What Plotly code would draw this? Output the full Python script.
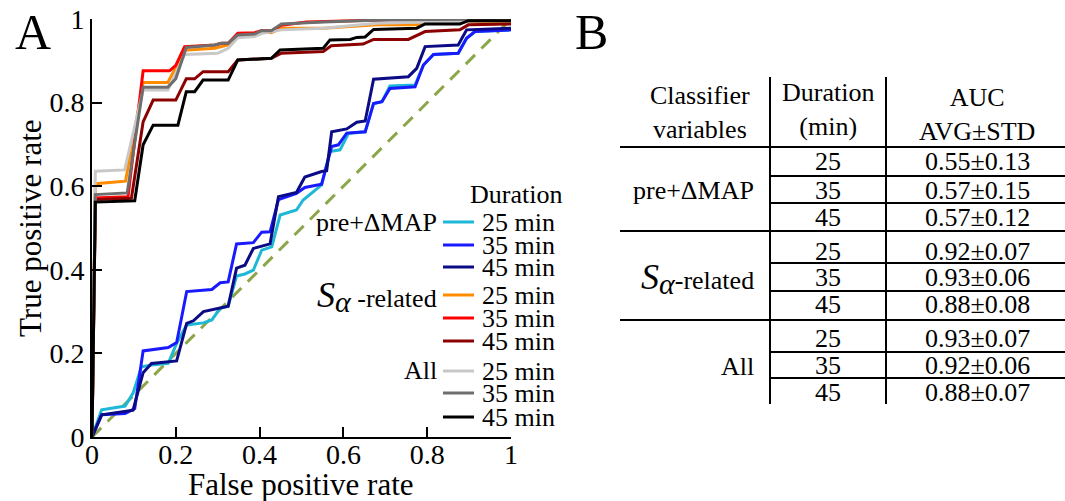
import plotly.graph_objects as go

# ---------------- data ----------------
durations = ["25 min", "35 min", "45 min"]
groups = ["pre+ΔMAP", "S_alpha-related", "All"]

pre25_x = [0, 0.023, 0.079, 0.098, 0.118, 0.142, 0.182, 0.202, 0.226, 0.266, 0.286, 0.306, 0.325, 0.345, 0.365, 0.385, 0.405, 0.429, 0.449, 0.488, 0.504, 0.548, 0.568, 0.592, 0.612, 0.652, 0.672, 0.692, 0.711, 0.771, 0.791, 0.815, 0.874, 0.894, 0.914, 1.0]
pre25_y = [0, 0.065, 0.074, 0.105, 0.168, 0.172, 0.176, 0.224, 0.268, 0.273, 0.28, 0.308, 0.313, 0.385, 0.39, 0.399, 0.447, 0.455, 0.531, 0.543, 0.567, 0.603, 0.683, 0.687, 0.726, 0.73, 0.798, 0.802, 0.84, 0.842, 0.89, 0.915, 0.918, 0.954, 0.97, 0.974]

pre35_x = [0, 0.023, 0.079, 0.102, 0.122, 0.182, 0.202, 0.226, 0.286, 0.306, 0.325, 0.345, 0.385, 0.405, 0.425, 0.445, 0.488, 0.508, 0.548, 0.572, 0.588, 0.608, 0.652, 0.672, 0.692, 0.711, 0.771, 0.791, 0.815, 0.874, 0.894, 0.914, 1.0]
pre35_y = [0, 0.053, 0.056, 0.068, 0.206, 0.214, 0.226, 0.348, 0.353, 0.369, 0.371, 0.462, 0.465, 0.49, 0.491, 0.568, 0.583, 0.597, 0.605, 0.695, 0.699, 0.727, 0.73, 0.798, 0.802, 0.834, 0.838, 0.89, 0.915, 0.918, 0.954, 0.97, 0.974]

pre45_x = [0, 0.023, 0.098, 0.122, 0.142, 0.182, 0.202, 0.226, 0.242, 0.266, 0.306, 0.325, 0.345, 0.365, 0.385, 0.425, 0.445, 0.488, 0.508, 0.548, 0.56, 0.572, 0.608, 0.632, 0.652, 0.672, 0.755, 0.775, 0.795, 0.874, 0.894, 1.0]
pre45_y = [0, 0.053, 0.064, 0.154, 0.176, 0.18, 0.182, 0.272, 0.278, 0.3, 0.31, 0.313, 0.404, 0.411, 0.451, 0.462, 0.575, 0.585, 0.622, 0.635, 0.637, 0.73, 0.737, 0.753, 0.756, 0.856, 0.862, 0.882, 0.934, 0.938, 0.974, 0.978]

sa25_x = [0, 0.008, 0.08, 0.122, 0.181, 0.221, 0.293, 0.325, 0.348, 0.388, 0.404, 0.428, 0.452, 0.552, 0.68, 0.775, 0.795, 1.0]
sa25_y = [0, 0.606, 0.612, 0.848, 0.848, 0.925, 0.93, 0.938, 0.962, 0.962, 0.97, 0.967, 0.978, 0.978, 0.986, 0.986, 0.992, 0.995]

sa35_x = [0, 0.008, 0.086, 0.122, 0.185, 0.2, 0.221, 0.293, 0.309, 0.325, 0.348, 0.388, 0.404, 0.428, 0.452, 0.512, 0.71, 1.0]
sa35_y = [0, 0.572, 0.575, 0.876, 0.876, 0.889, 0.934, 0.938, 0.942, 0.942, 0.966, 0.967, 0.972, 0.972, 0.985, 0.993, 0.998, 1.0]

sa45_x = [0, 0.008, 0.094, 0.122, 0.146, 0.2, 0.225, 0.245, 0.265, 0.325, 0.348, 0.428, 0.452, 0.552, 0.571, 0.647, 0.672, 0.755, 0.795, 0.878, 0.898, 1.0]
sa45_y = [0, 0.568, 0.571, 0.754, 0.806, 0.806, 0.857, 0.857, 0.874, 0.874, 0.902, 0.906, 0.918, 0.922, 0.936, 0.94, 0.951, 0.951, 0.97, 0.974, 0.986, 0.988]

all25_x = [0, 0.008, 0.078, 0.122, 0.181, 0.221, 0.3, 0.325, 0.348, 0.388, 0.404, 0.452, 0.552, 0.68, 0.8, 1.0]
all25_y = [0, 0.636, 0.639, 0.83, 0.83, 0.915, 0.918, 0.93, 0.955, 0.958, 0.965, 0.974, 0.978, 0.99, 0.993, 0.997]

all35_x = [0, 0.008, 0.084, 0.122, 0.181, 0.2, 0.225, 0.293, 0.309, 0.325, 0.348, 0.388, 0.404, 0.428, 0.452, 0.552, 0.71, 1.0]
all35_y = [0, 0.58, 0.584, 0.837, 0.837, 0.857, 0.932, 0.938, 0.942, 0.942, 0.962, 0.964, 0.972, 0.972, 0.988, 0.993, 0.998, 1.0]

all45_x = [0, 0.008, 0.102, 0.122, 0.146, 0.205, 0.225, 0.245, 0.265, 0.325, 0.348, 0.428, 0.449, 0.552, 0.568, 0.616, 0.632, 0.652, 0.672, 0.775, 0.795, 0.878, 0.898, 1.0]
all45_y = [0, 0.562, 0.565, 0.699, 0.746, 0.746, 0.826, 0.826, 0.854, 0.854, 0.902, 0.906, 0.926, 0.93, 0.95, 0.951, 0.956, 0.957, 0.975, 0.978, 0.988, 0.988, 0.996, 0.996]

chance_x = [0, 1]
chance_y = [0, 1]

tick_vals = [0, 0.2, 0.4, 0.6, 0.8, 1]
tick_text = ["0", "0.2", "0.4", "0.6", "0.8", "1"]

x_title = "False positive rate"
y_title = "True positive rate"

# table data
table_groups = ["pre+ΔMAP", "S_alpha-related", "All"]
table_durations = ["25", "35", "45"]
table_auc = [["0.55±0.13", "0.57±0.15", "0.57±0.12"],
             ["0.92±0.07", "0.93±0.06", "0.88±0.08"],
             ["0.93±0.07", "0.92±0.06", "0.88±0.07"]]

# ---------------- styles ----------------
FONT = "Liberation Serif"
colors = [["#1db8d6", "#1a1aff", "#0b0b86"],
          ["#ff8c00", "#ff0000", "#8b0000"],
          ["#c8c8c8", "#6e6e6e", "#000000"]]
series = [[(pre25_x, pre25_y), (pre35_x, pre35_y), (pre45_x, pre45_y)],
          [(sa25_x, sa25_y), (sa35_x, sa35_y), (sa45_x, sa45_y)],
          [(all25_x, all25_y), (all35_x, all35_y), (all45_x, all45_y)]]

SALPHA = ("<span style='font-size:36px'><i>S</i></span>"
          "<sub><span style='font-size:30px'><i>α</i></span></sub>")
def group_label(g, legend=False):
    if g == "S_alpha-related":
        return SALPHA + (" -related" if legend else "-related")
    return g

fig = go.Figure()
fig.add_trace(go.Scatter(x=chance_x, y=chance_y, mode="lines",
                         line=dict(color="#8ca64a", width=3, dash="13px,9px"),
                         showlegend=False, hoverinfo="skip"))
for gi in range(3):
    for di in range(3):
        xs, ys = series[gi][di]
        fig.add_trace(go.Scatter(x=xs, y=ys, mode="lines",
                                 line=dict(color=colors[gi][di], width=3),
                                 name=f"{groups[gi]} {durations[di]}",
                                 showlegend=False))

W, H = 1065, 501
L, R, T, B = 92, 511, 19, 437

def PX(px):
    return (px - L) / (R - L)

def PY(py):
    return (B - py) / (B - T)

shapes = []
annotations = []

def text(px, py, s, size=26, xanchor="center", yanchor="middle", angle=0):
    annotations.append(dict(x=PX(px), y=PY(py), xref="paper", yref="paper",
                            text=s, showarrow=False, xanchor=xanchor, yanchor=yanchor,
                            textangle=angle,
                            font=dict(family=FONT, size=size, color="black")))

def line(x0, y0, x1, y1, w=2, c="black"):
    shapes.append(dict(type="line", xref="paper", yref="paper",
                       x0=PX(x0), y0=PY(y0), x1=PX(x1), y1=PY(y1),
                       line=dict(color=c, width=w)))

# panel labels
text(33, 32, "A", size=50)
text(591, 32, "B", size=50)

# axis titles
text(301, 484, x_title, size=31)
text(30, 228, y_title, size=31, angle=-90)

# custom legend
text(516, 194, "Duration", size=26)
leg_y = [[222, 245, 267], [295, 318, 341], [371, 393, 417]]
grp_y = [222, 296, 370]
for gi in range(3):
    text(439, grp_y[gi], group_label(groups[gi], legend=True), size=26, xanchor="right")
    for di in range(3):
        line(443, leg_y[gi][di], 474, leg_y[gi][di], w=3, c=colors[gi][di])
        text(480, leg_y[gi][di], durations[di], size=26, xanchor="left")

# table
line(770, 77, 770, 404)
line(886, 77, 886, 404)
line(620, 147, 1065, 147)
line(620, 231, 1065, 231)
line(620, 320, 1065, 320)
for yy in [176, 203, 263, 291, 352, 378]:
    line(770, yy, 1065, yy)

text(700, 113, "Classifier<br>variables", size=26)
text(828, 110, "Duration<br>(min)", size=26)
text(977, 114, "AUC<br>AVG±STD", size=26)

row_y = [[162, 190, 217], [251, 277, 304], [338, 365, 392]]
grp_ty = [190, 278, 366]
for gi in range(3):
    text(756, grp_ty[gi], group_label(table_groups[gi]), size=26, xanchor="right")
    for di in range(3):
        text(828, row_y[gi][di], table_durations[di], size=26)
        text(977, row_y[gi][di], table_auc[gi][di], size=26)

fig.update_layout(
    width=W, height=H,
    margin=dict(l=L, r=W - R, t=T, b=H - B, pad=0, autoexpand=False),
    paper_bgcolor="white", plot_bgcolor="white",
    font=dict(family=FONT, size=26, color="black"),
    shapes=shapes, annotations=annotations,
    showlegend=False,
)
axis_common = dict(range=[0, 1], showgrid=False, zeroline=False, showline=True,
                   linecolor="black", linewidth=2, ticks="inside", ticklen=10,
                   tickwidth=2, tickcolor="black", tickvals=tick_vals, ticktext=tick_text,
                   tickfont=dict(family=FONT, size=28, color="black"), mirror=False,
                   automargin=False)
fig.update_xaxes(**axis_common, ticklabelstandoff=-9)
fig.update_yaxes(**axis_common)

fig.write_html("out.html",
               config={"displayModeBar": False},
               post_script="document.body.style.margin='0';document.body.style.overflow='hidden';")
